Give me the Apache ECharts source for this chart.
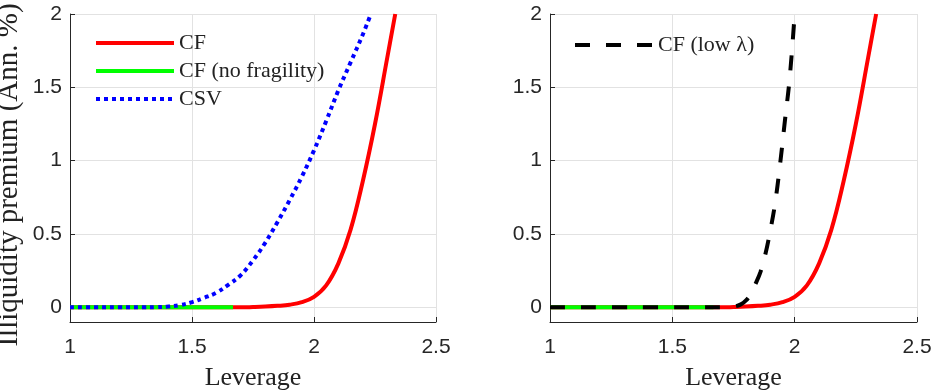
<!DOCTYPE html>
<html>
<head>
<meta charset="utf-8">
<script src="https://cdn.jsdelivr.net/npm/echarts@6/dist/echarts.min.js"></script>
<style>html,body{margin:0;padding:0;background:#fff;}#c{width:933px;height:390px;}</style>
</head>
<body>
<div id="c"></div>
<script>
// ---- data ----
const xTicks = [1, 1.5, 2, 2.5];
const yTicks = [0, 0.5, 1, 1.5, 2];

const cfX = [1.0, 1.1, 1.2, 1.3, 1.4, 1.5, 1.6, 1.70, 1.75, 1.80, 1.85, 1.90, 1.95, 2.00, 2.05, 2.10, 2.15, 2.20, 2.25, 2.30, 2.333];
const cfY = [0, 0, 0, 0, 0, 0, 0, 0, 0.002, 0.005, 0.01, 0.018, 0.035, 0.072, 0.15, 0.30, 0.53, 0.86, 1.25, 1.70, 2.0];

const cfNoFragX = [1.0, 1.668];
const cfNoFragY = [0, 0];

const csvX = [1.0, 1.1, 1.2, 1.3, 1.35, 1.40, 1.45, 1.50, 1.55, 1.60, 1.65, 1.70, 1.75, 1.80, 1.85, 1.90, 1.95, 2.00, 2.05, 2.10, 2.15, 2.20, 2.233];
const csvY = [0, 0, 0, 0, 0.001, 0.005, 0.015, 0.035, 0.065, 0.10, 0.155, 0.22, 0.32, 0.44, 0.58, 0.73, 0.89, 1.07, 1.27, 1.48, 1.67, 1.86, 2.0];

const lowX = [1.0, 1.1, 1.2, 1.3, 1.4, 1.5, 1.6, 1.70, 1.75, 1.78, 1.80, 1.82, 1.84, 1.86, 1.88, 1.90, 1.92, 1.94, 1.96, 1.98, 2.00];
const lowY = [0, 0, 0, 0, 0, 0, 0, 0, 0.005, 0.02, 0.045, 0.09, 0.16, 0.24, 0.36, 0.52, 0.71, 0.97, 1.27, 1.57, 2.0];

const names = ['CF', 'CF (no fragility)', 'CSV', 'CF (low λ)'];
const xName = 'Leverage';
const yName = 'Illiquidity premium (Ann. %)';

function pairs(xs, ys) { return xs.map((x, i) => [x, ys[i]]); }

const axisCol = '#262626';
const gridCol = '#e2e2e2';
const serif = "'Liberation Serif', 'DejaVu Serif', serif";
const sans = "'Liberation Sans', Arial, sans-serif";

function xAxis(idx) {
  return {
    type: 'value', gridIndex: idx, min: 1, max: 2.5, interval: 0.5,
    name: xName, nameLocation: 'middle', nameGap: 43,
    nameTextStyle: { fontFamily: serif, fontSize: 26, color: '#222' },
    axisLine: { show: true, onZero: false, lineStyle: { color: axisCol, width: 1 } },
    axisTick: { show: true, inside: true, length: 5, lineStyle: { color: axisCol } },
    axisLabel: { margin: 15, fontFamily: sans, fontSize: 21, color: axisCol },
    splitLine: { show: true, lineStyle: { color: gridCol, width: 1 } }
  };
}
function yAxis(idx, withName) {
  const a = {
    type: 'value', gridIndex: idx, min: -0.1, max: 2,
    axisLine: { show: true, onZero: false, lineStyle: { color: axisCol, width: 1 } },
    axisTick: { show: true, inside: true, length: 5, lineStyle: { color: axisCol }, customValues: yTicks },
    axisLabel: { margin: 8, fontFamily: sans, fontSize: 21, color: axisCol, customValues: yTicks },
    splitLine: { show: true, lineStyle: { color: gridCol, width: 1 } }
  };
  if (withName) {
    a.name = yName; a.nameLocation = 'middle'; a.nameGap = 46;
    a.nameTextStyle = { fontFamily: serif, fontSize: 29, color: '#222', padding: [0, 14, 0, 0] };
  }
  return a;
}

const chart = echarts.init(document.getElementById('c'), null, { renderer: 'canvas' });
const lineBase = { type: 'line', symbol: 'none', smooth: 0.4, animation: false, clip: true };
const legendBase = {
  orient: 'vertical', padding: 0, itemWidth: 78, itemHeight: 16, itemGap: 6,
  textStyle: { fontFamily: serif, fontSize: 22, color: '#222' }, selectedMode: false,
  itemStyle: { opacity: 0 },
  lineStyle: { width: 4, cap: 'butt' }
};

chart.setOption({
  animation: false,
  backgroundColor: '#fff',
  grid: [
    { left: 70, top: 14, width: 366, height: 308, containLabel: false, outerBoundsMode: 'none' },
    { left: 550, top: 14, width: 367, height: 308, containLabel: false, outerBoundsMode: 'none' }
  ],
  xAxis: [xAxis(0), xAxis(1)],
  yAxis: [yAxis(0, true), yAxis(1, false)],
  legend: [
    Object.assign({}, legendBase, { data: [names[0], names[1], names[2]], left: 94, top: 32 }),
    Object.assign({}, legendBase, { data: [names[3]], left: 573, top: 34 })
  ],
  series: [
    Object.assign({}, lineBase, { name: names[0], xAxisIndex: 0, yAxisIndex: 0, data: pairs(cfX, cfY), z: 2,
      itemStyle: { color: '#ff0000' }, lineStyle: { color: '#ff0000', width: 4 } }),
    Object.assign({}, lineBase, { name: names[1], xAxisIndex: 0, yAxisIndex: 0, data: pairs(cfNoFragX, cfNoFragY), z: 3,
      itemStyle: { color: '#00ff00' }, lineStyle: { color: '#00ff00', width: 4 } }),
    Object.assign({}, lineBase, { name: names[2], xAxisIndex: 0, yAxisIndex: 0, data: pairs(csvX, csvY), z: 4,
      itemStyle: { color: '#0000ff' }, lineStyle: { color: '#0000ff', width: 4, type: [4, 4], cap: 'butt' } }),
    Object.assign({}, lineBase, { name: names[0] + ' ', xAxisIndex: 1, yAxisIndex: 1, data: pairs(cfX, cfY), z: 2,
      itemStyle: { color: '#ff0000' }, lineStyle: { color: '#ff0000', width: 4 } }),
    Object.assign({}, lineBase, { name: names[1] + ' ', xAxisIndex: 1, yAxisIndex: 1, data: pairs(cfNoFragX, cfNoFragY), z: 3,
      itemStyle: { color: '#00ff00' }, lineStyle: { color: '#00ff00', width: 4 } }),
    Object.assign({}, lineBase, { name: names[3], xAxisIndex: 1, yAxisIndex: 1, data: pairs(lowX, lowY), z: 4,
      itemStyle: { color: '#000000' }, lineStyle: { color: '#000000', width: 4, type: [15, 16], cap: 'butt' } })
  ]
});
</script>
</body>
</html>
